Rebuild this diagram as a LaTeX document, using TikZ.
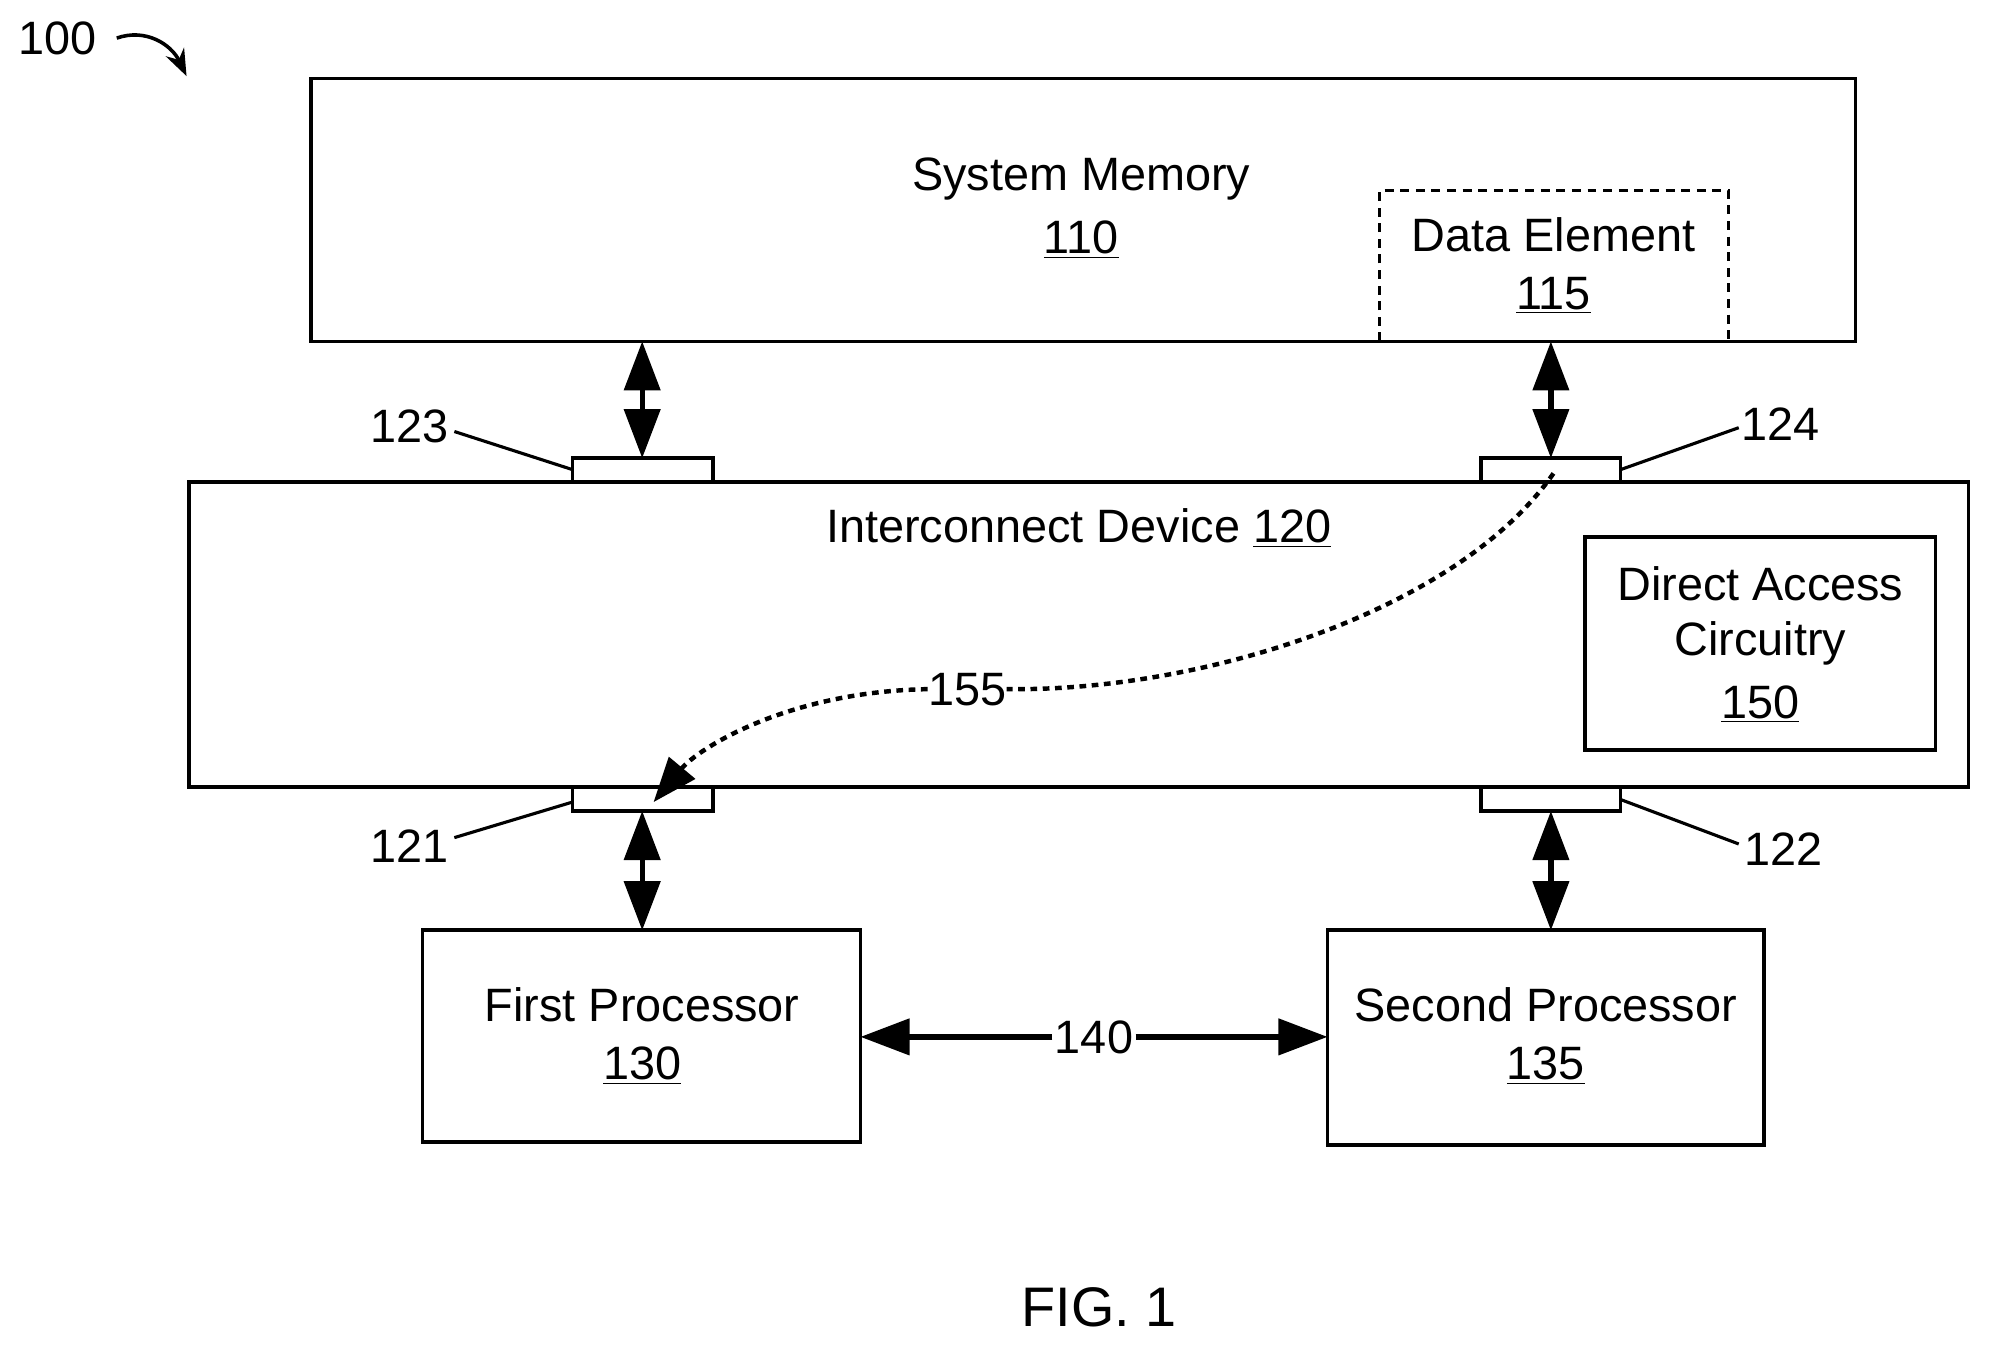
\documentclass[tikz,border=0pt]{standalone}
\usepackage{fontspec}
\setmainfont{Liberation Sans}
\usetikzlibrary{arrows.meta}
\begin{document}
\begin{tikzpicture}[x=0.02cm,y=-0.02cm,
  box/.style={draw,line width=1.6pt},
  txt/.style={font=\fontsize{21}{25}\selectfont,inner sep=0pt},
  dbl/.style={line width=2.4pt,{Triangle[length=22pt,width=16pt]}-{Triangle[length=22pt,width=16pt]}},
  lead/.style={line width=1.4pt}]
\useasboundingbox (0,0) rectangle (1568,1064);
\draw[box] (245,62) rectangle (1462,269);
\node[txt] (smt) at (852,141) {System Memory};
\node[txt] (smn) at (852,189) {\underline{110}};
\draw[line width=1.6pt,dash pattern=on 4pt off 3pt] (1087,269) -- (1087,150) -- (1362,150) -- (1362,269);
\node[txt] (det) at (1224,185) {Data Element};
\node[txt] (den) at (1224,233) {\underline{115}};
\draw[box] (149,380) rectangle (1551,620);
\node[txt] (ic) at (850,416) {Interconnect Device \underline{120}};
\draw[box] (451,361) rectangle (562,380);
\draw[box] (1167,361) rectangle (1277,380);
\draw[box] (451,620) rectangle (562,639);
\draw[box] (1167,620) rectangle (1277,639);
\draw[box] (1249,423) rectangle (1525,591);
\node[txt] at (1387,460) {Direct Access};
\node[txt] at (1387,507) {Circuitry};
\node[txt] at (1387,555) {\underline{150}};
\draw[box] (333,733) rectangle (678,900);
\node[txt] at (506,792) {First Processor};
\node[txt] at (506,840) {\underline{130}};
\draw[box] (1046,733) rectangle (1390,902);
\node[txt] at (1218,792) {Second Processor};
\node[txt] at (1218,840) {\underline{135}};
\coordinate (a1) at (506,269); \coordinate (a2) at (506,361);
\coordinate (b1) at (1222,269); \coordinate (b2) at (1222,361);
\coordinate (c1) at (506,639); \coordinate (c2) at (506,733);
\coordinate (d1) at (1222,639); \coordinate (d2) at (1222,733);
\draw[dbl] (a1) -- (a2);
\draw[dbl] (b1) -- (b2);
\draw[dbl] (c1) -- (c2);
\draw[dbl] (d1) -- (d2);
\node[txt,fill=white,inner sep=1pt] (l140) at (862,817) {140};
\draw[line width=2.4pt,-{Triangle[length=22pt,width=16pt]}] (l140.west) -- (678,817);
\draw[line width=2.4pt,-{Triangle[length=22pt,width=16pt]}] (l140.east) -- (1046,817);
\node[txt] at (323,336) {123};
\draw[lead] (358,340) -- (451,370);
\node[txt] at (1403,334) {124};
\draw[lead] (1370,337) -- (1277,370);
\node[txt] at (323,667) {121};
\draw[lead] (358,660) -- (451,632);
\node[txt] at (1405,669) {122};
\draw[lead] (1370,665) -- (1277,630);
\node[txt] (l155) at (762,543) {155};
\draw[line width=2pt,dash pattern=on 3pt off 2.5pt] (1224,373) .. controls (1150,480) and (950,545) .. (l155.east);
\draw[line width=2pt,dash pattern=on 3pt off 2.5pt,-{Triangle[length=20pt,width=15pt]}] (l155.west) .. controls (620,545) and (550,590) .. (515,632);
\node[txt] at (45,30) {100};
\draw[line width=1.6pt,-{Stealth[length=12pt,width=9pt]}] (92,30) .. controls (115,22) and (135,35) .. (147,60);
\node[font=\fontsize{25}{30}\selectfont,inner sep=0pt] at (866,1030) {FIG. 1};
\end{tikzpicture}
\end{document}
